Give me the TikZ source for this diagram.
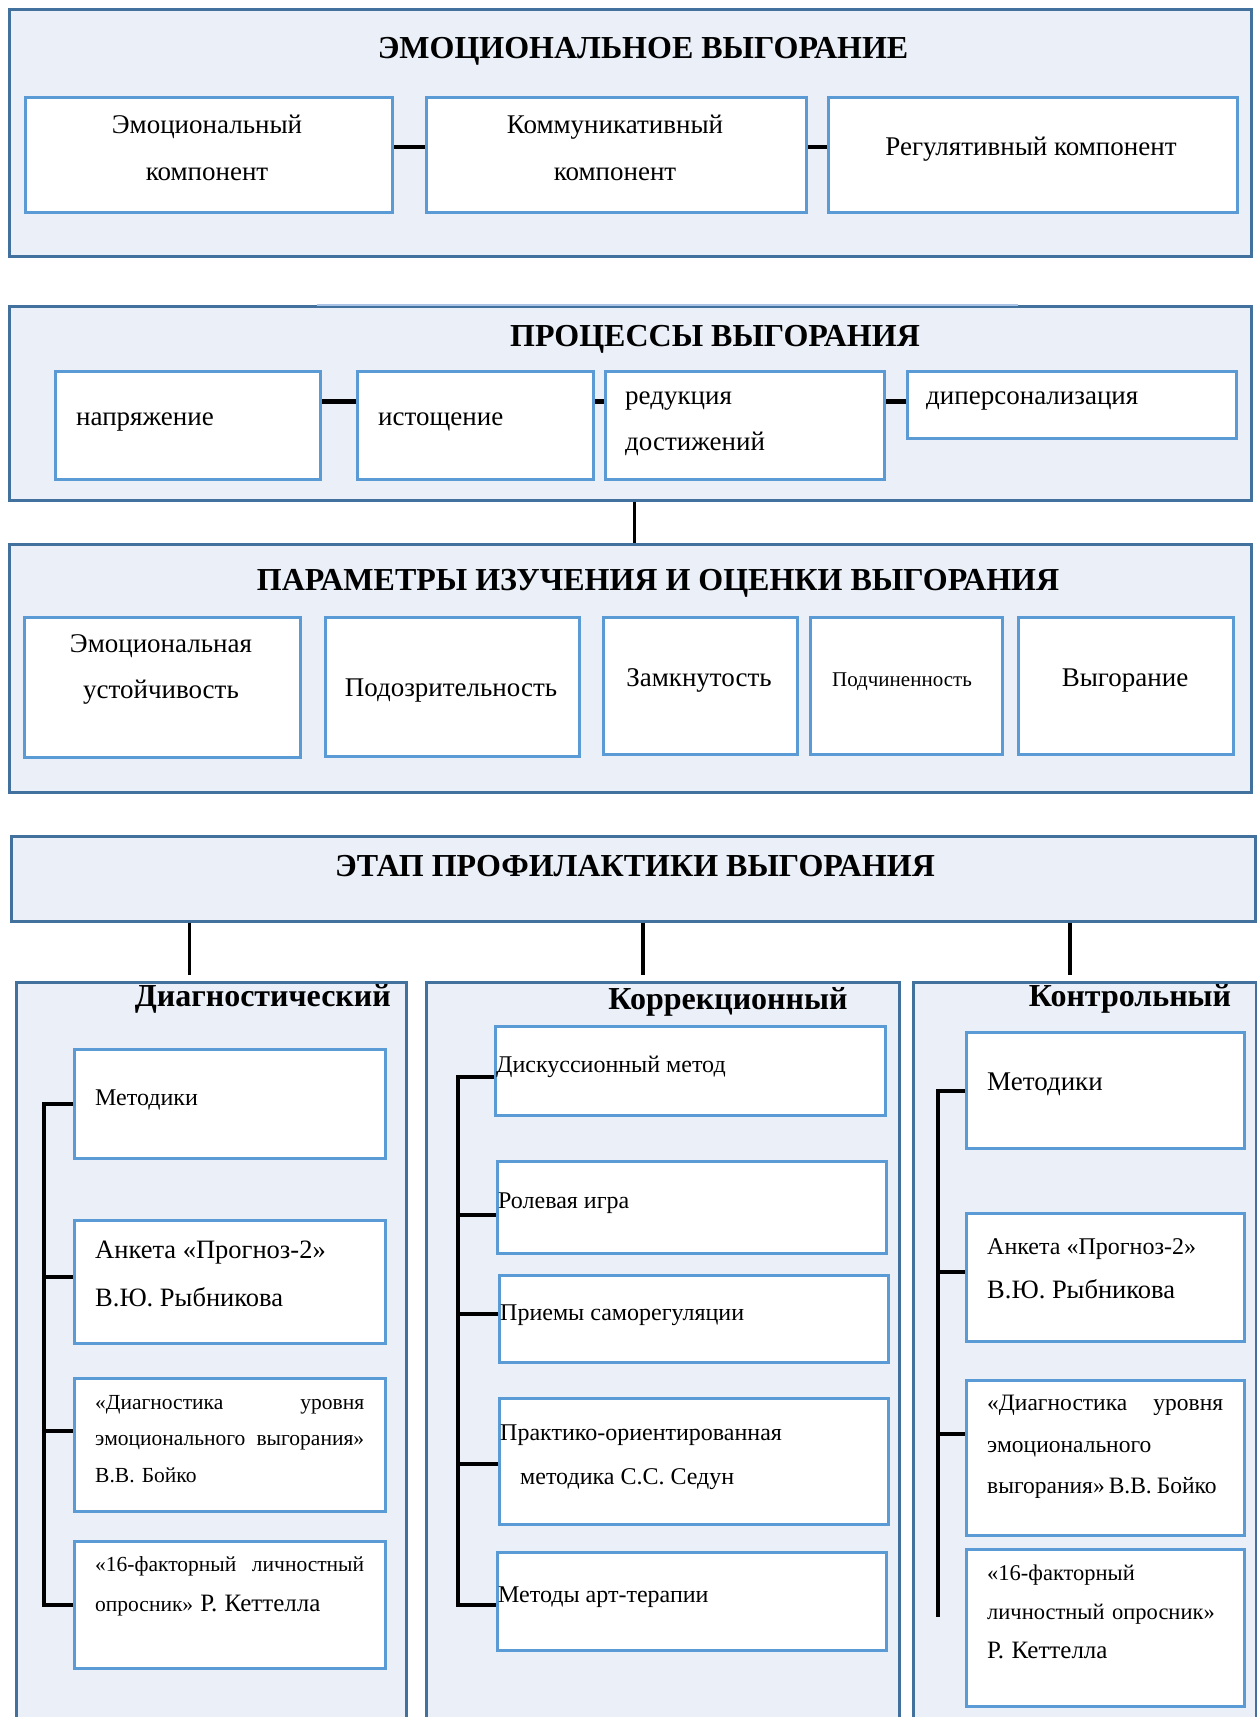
\documentclass[tikz,border=0pt]{standalone}
\usepackage{fontspec}
\setmainfont{Liberation Serif}
\usepackage{xcolor}
\usepackage{tikz}
\definecolor{PANEL}{HTML}{EBF0F8}
\definecolor{EDGE}{HTML}{41719C}
\definecolor{BOXEDGE}{HTML}{5B9BD5}
\definecolor{LITE}{HTML}{A9C4E6}
\newcommand{\setfs}[2]{\fontsize{#1}{#2}\selectfont}
\newcommand{\jline}[1]{\noindent\hbox to\linewidth{#1}}

\begin{document}
\begin{tikzpicture}[x=1pt, y=-1pt,
    panel/.style={draw=EDGE, fill=PANEL, line width=2.5pt, inner sep=0pt, anchor=north west},
    box/.style={draw=BOXEDGE, fill=white, line width=3pt, inner sep=0pt, anchor=north west},
    head/.style={font=\setfs{32}{40}\bfseries, inner sep=0pt},
    colhead/.style={font=\setfs{32}{38}\bfseries, inner sep=0pt},
    txt/.style={font=\setfs{27}{47}, inner sep=0pt},
    mid/.style={font=\setfs{24}{44}, inner sep=0pt, anchor=west, align=left},
    sml/.style={font=\setfs{21.5}{36.5}, inner sep=0pt, anchor=west, align=left},
    link/.style={line width=4.5pt},
    vlink/.style={line width=3.5pt},
    brace/.style={line width=4pt},
  ]
  \useasboundingbox (0,0) rectangle (1257,1717);

  % ===== emotional burnout =====
  \node[panel, minimum width=1242pt, minimum height=247pt] (emo) at (8,8) {};
  \node[head] at (643,51) {ЭМОЦИОНАЛЬНОЕ ВЫГОРАНИЕ};
  \node[box, minimum width=367pt, minimum height=115pt] (e1) at (24,96) {};
  \node[box, minimum width=380pt, minimum height=115pt] (e2) at (425,96) {};
  \node[box, minimum width=409pt, minimum height=115pt] (e3) at (827,96) {};
  \node[txt, align=center] at (207,148) {Эмоциональный\\компонент};
  \node[txt, align=center] at (615,148) {Коммуникативный\\компонент};
  \node[txt] at (1031,149) {Регулятивный компонент};
  \draw[link] ([yshift=8pt]e1.east) -- ([yshift=8pt]e2.west);
  \draw[link] ([yshift=8pt]e2.east) -- ([yshift=8pt]e3.west);

  % ===== processes =====
  \node[panel, minimum width=1242pt, minimum height=194pt] (proc) at (8,305) {};
  \draw[LITE, line width=2.5pt] (317,305) -- (1018,305);
  \node[head] at (715,339) {ПРОЦЕССЫ ВЫГОРАНИЯ};
  \node[box, minimum width=265pt, minimum height=108pt] (p1) at (54,370) {};
  \node[box, minimum width=236pt, minimum height=108pt] (p2) at (356,370) {};
  \node[box, minimum width=279pt, minimum height=108pt] (p3) at (604,370) {};
  \node[box, minimum width=329pt, minimum height=67pt] (p4) at (906,370) {};
  \node[txt, anchor=west] at (76,422) {напряжение};
  \node[txt, anchor=west] at (378,422) {истощение};
  \node[txt, anchor=west, align=left, font=\setfs{27}{46}] at (625,424) {редукция\\достижений};
  \node[txt, anchor=west] at (926,401) {диперсонализация};
  \draw[link] ([yshift=24pt]p1.east) -- ([yshift=24pt]p2.west);
  \draw[link] ([yshift=24pt]p2.east) -- ([yshift=24pt]p3.west);
  \draw[link] ([yshift=24pt]p3.east) -- ([yshift=24pt]p3.east -| p4.west);

  % ===== parameters =====
  \node[panel, minimum width=1242pt, minimum height=248pt] (par) at (8,543) {};
  \draw[vlink] ([xshift=4pt]proc.south) -- ([xshift=4pt]par.north);
  \node[head] at (658,583) {ПАРАМЕТРЫ ИЗУЧЕНИЯ И ОЦЕНКИ ВЫГОРАНИЯ};
  \node[box, minimum width=276pt, minimum height=140pt] (q1) at (23,616) {};
  \node[box, minimum width=254pt, minimum height=139pt] (q2) at (324,616) {};
  \node[box, minimum width=194pt, minimum height=137pt] (q3) at (602,616) {};
  \node[box, minimum width=192pt, minimum height=137pt] (q4) at (809,616) {};
  \node[box, minimum width=215pt, minimum height=137pt] (q5) at (1017,616) {};
  \node[txt, align=center, font=\setfs{27}{46}] at (161,669) {Эмоциональная\\устойчивость};
  \node[txt] at (451,691) {Подозрительность};
  \node[txt] at (699,680) {Замкнутость};
  \node[txt, font=\setfs{21}{24}] at (902,682) {Подчиненность};
  \node[txt] at (1125,681) {Выгорание};

  % ===== prevention stage =====
  \node[panel, minimum width=1244pt, minimum height=85pt] (etap) at (10,835) {};
  \node[head] at (635,866) {ЭТАП ПРОФИЛАКТИКИ ВЫГОРАНИЯ};
  \node[panel, minimum width=390pt, minimum height=800pt] (dcol) at (15,981) {};
  \node[panel, minimum width=473pt, minimum height=800pt] (ccol) at (425,981) {};
  \node[panel, minimum width=343pt, minimum height=800pt] (kcol) at (912,981) {};
  \foreach \c/\dx in {dcol/-22, ccol/-20, kcol/-15}
    \draw[vlink] ([xshift=\dx pt]\c.north |- etap.south) -- ([xshift=\dx pt, yshift=6pt]\c.north);
  \node[colhead, anchor=east] at (391,999) {Диагностический};
  \node[colhead] at (728,1002) {Коррекционный};
  \node[colhead] at (1130,999) {Контрольный};

  % --- diagnostic column
  \node[box, minimum width=311pt, minimum height=109pt] (d1) at (73,1048) {};
  \node[box, minimum width=311pt, minimum height=123pt] (d2) at (73,1219) {};
  \node[box, minimum width=311pt, minimum height=133pt] (d3) at (73,1377) {};
  \node[box, minimum width=311pt, minimum height=127pt] (d4) at (73,1540) {};
  \node[mid] at (95,1100) {Методики};
  \node[mid, font=\setfs{26.5}{48}] at (95,1274) {Анкета «Прогноз-2»\\В.Ю. Рыбникова};
  \node[sml, text width=269pt] at (95,1439)
    {\jline{«Диагностика\hfill уровня}\\\jline{эмоционального\hfill выгорания»}\\В.В. Бойко};
  \node[sml, text width=269pt, font=\setfs{21.5}{40}] at (95,1586)
    {\jline{«16-факторный\hfill личностный}\\опросник» {\setfs{25}{40}Р. Кеттелла}};
  \coordinate (dtop) at ([xshift=-29pt]d1.west);
  \draw[brace] (d1.west) -- (dtop) |- (d4.west);
  \foreach \b/\dy in {d2/5, d3/14}
    \draw[brace] ([yshift=\dy pt]\b.west) -- ([yshift=\dy pt]\b.west -| dtop);

  % --- correction column
  \node[box, minimum width=390pt, minimum height=89pt] (c1) at (494,1025) {};
  \node[box, minimum width=389pt, minimum height=92pt] (c2) at (496,1160) {};
  \node[box, minimum width=389pt, minimum height=87pt] (c3) at (498,1274) {};
  \node[box, minimum width=389pt, minimum height=126pt] (c4) at (498,1397) {};
  \node[box, minimum width=389pt, minimum height=98pt] (c5) at (496,1551) {};
  \node[mid] at (496,1067) {Дискуссионный метод};
  \node[mid] at (498,1203) {Ролевая игра};
  \node[mid] at (500,1315) {Приемы саморегуляции};
  \node[mid] at (500,1457) {Практико-ориентированная\\\hspace*{20pt}методика С.С. Седун};
  \node[mid] at (498,1597) {Методы арт-терапии};
  \coordinate (ctop) at ([xshift=-36pt, yshift=-6pt]c1.west);
  \coordinate (cbot) at ([xshift=-38pt, yshift=-3pt]c5.west);
  \draw[brace] ([yshift=-6pt]c1.west) -- (ctop) -- (cbot) -- ([yshift=-3pt]c5.west);
  \foreach \b/\dy in {c2/-7, c3/5, c4/-2}
    \draw[brace] ([yshift=\dy pt]\b.west) -- ([yshift=\dy pt]\b.west -| ctop);

  % --- control column
  \node[box, minimum width=278pt, minimum height=116pt] (k1) at (965,1031) {};
  \node[box, minimum width=278pt, minimum height=128pt] (k2) at (965,1212) {};
  \node[box, minimum width=278pt, minimum height=155pt] (k3) at (965,1379) {};
  \node[box, minimum width=278pt, minimum height=157pt] (k4) at (965,1548) {};
  \node[mid, font=\setfs{27}{44}] at (987,1084) {Методики};
  \node[mid] at (987,1269) {Анкета «Прогноз-2»\\{\setfs{26.5}{44}В.Ю. Рыбникова}};
  \node[sml, text width=236pt, font=\setfs{23.5}{41.5}] at (987,1447)
    {\jline{«Диагностика\hfill уровня}\\эмоционального\\\jline{выгорания»\hspace{4pt}В.В.\hspace{5pt}Бойко\hss}};
  \node[sml, text width=234pt, font=\setfs{22.5}{39}] at (987,1612)
    {«16-факторный\\личностный опросник»\\{\setfs{25}{39}Р. Кеттелла}};
  \coordinate (ktop) at ([xshift=-27pt]k1.west);
  \coordinate (kbot) at ([yshift=11pt]k4.west -| ktop);
  \draw[brace] (k1.west) -- (ktop) -- (kbot);
  \foreach \b/\dy in {k2/6, k3/24}
    \draw[brace] ([yshift=\dy pt]\b.west) -- ([yshift=\dy pt]\b.west -| ktop);
\end{tikzpicture}
\end{document}
